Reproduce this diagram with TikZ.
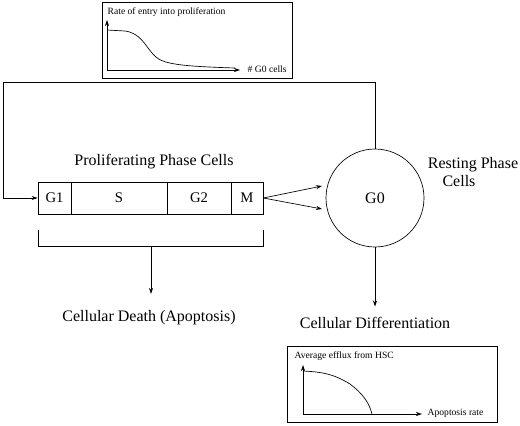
\documentclass[tikz,border=0pt]{standalone}
\usepackage{fontspec}
\setmainfont{Liberation Serif}
\usetikzlibrary{arrows.meta}
\begin{document}
\begin{tikzpicture}[x=0.75pt,y=-0.75pt,line width=0.5pt,>={Stealth[length=4.5pt,width=3pt]},
  phase/.style={draw,minimum height=24pt,inner sep=0pt,font=\fontsize{11}{13}\selectfont},
  big/.style={font=\fontsize{12}{14}\selectfont},
  small/.style={font=\fontsize{7.2}{8}\selectfont,inner sep=1pt,anchor=west}]
\useasboundingbox (0,0) rectangle (520,425);
% rate of entry inset
\draw (102,2) rectangle (292,78);
\node[small] (ratetitle) at (106,12) {Rate of entry into proliferation};
\draw[->] (107,70) -- (107,20);
\draw[->] (107,70) -- (240,70);
\node[small] (ratex) at (246,69) {\# G0 cells};
\draw (107,30) -- (125,31) .. controls (140,33) and (145,45) .. (152,53)
  .. controls (160,63) and (170,66) .. (235,68);
% cycle
\node[big] (prolif) at (154,162) {Proliferating Phase Cells};
\node[phase,minimum width=24.75pt] (G1) at (54.5,198) {G1};
\node[phase,minimum width=72pt] (S) at (119,198) {S};
\node[phase,minimum width=48pt] (G2) at (199,198) {G2};
\node[phase,minimum width=24pt] (M) at (247,198) {M};
\node[draw,circle,minimum size=73.5pt,big] (G0) at (375,198) {G0};
\node[big,align=center] (resting) at (473,172) {Resting Phase\\Cells\hspace*{21pt}};
\coordinate (loopL) at (3,82);
\draw[->] (G0.north) |- (loopL) |- (G1.west);
\coordinate (toG0a) at (322,186);
\coordinate (toG0b) at (322,209);
\draw[->] (M.east) -- (toG0a);
\draw[->] (M.east) -- (toG0b);
% death and differentiation
\draw (38,230) -- (38,246) -- (263,246) -- (263,230);
\coordinate (brk) at (151,246);
\node[big] (death) at (149,318) {Cellular Death (Apoptosis)};
\node[big] (diff) at (375,323) {Cellular Differentiation};
\draw[->,shorten >=9pt] (brk) -- (death.north -| brk);
\draw[->,shorten >=4.5pt] (G0.south) -- (diff.north);
% efflux inset
\draw (287,346) rectangle (497,422);
\node[small] (efftitle) at (293,356) {Average efflux from HSC};
\draw[->] (303,414) -- (303,365);
\draw[->] (303,414) -- (422,414);
\node[small] (effx) at (426,413) {Apoptosis rate};
\draw (303,371) .. controls (325,372) and (335,375) .. (350,384)
  .. controls (362,393) and (369,402) .. (372,414);
\end{tikzpicture}
\end{document}
